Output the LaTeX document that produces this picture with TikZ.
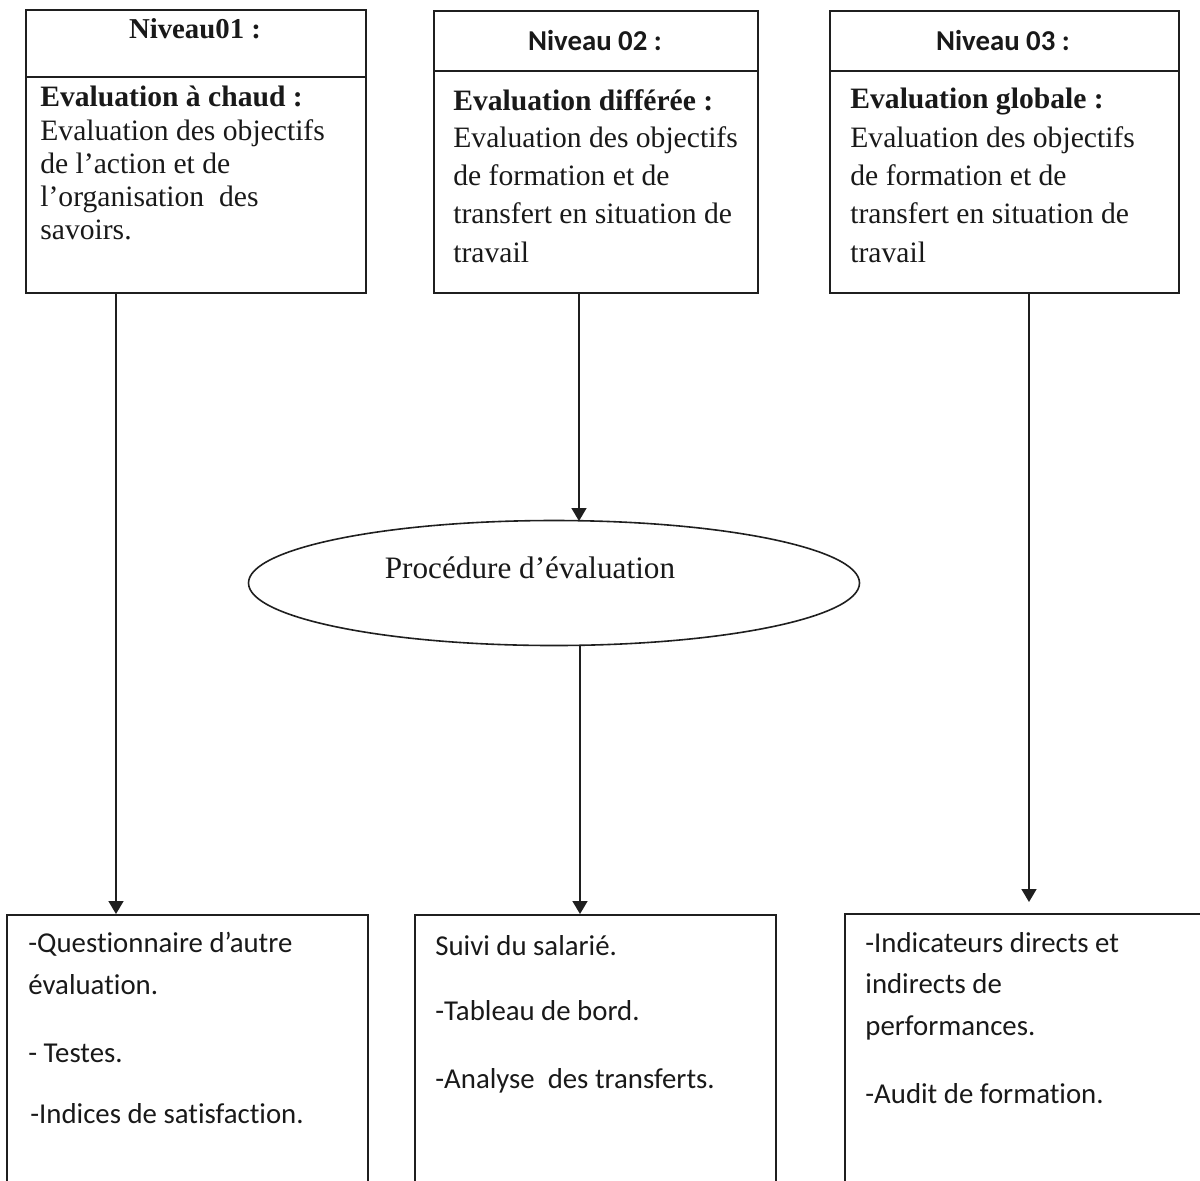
\documentclass[tikz,border=0pt]{standalone}
\usepackage{fontspec}
\setmainfont{Liberation Serif}
\newfontfamily\calfont[Ligatures=NoCommon]{Carlito}
\usetikzlibrary{arrows.meta,shapes.geometric}
\begin{document}
\begin{tikzpicture}[x=0.5pt,y=-0.5pt,
  frame/.style={draw=black!88, line width=1pt},
  topbox/.style={frame, rectangle, anchor=north west, inner sep=0pt},
  openbox/.style={rectangle, anchor=north west, inner sep=0pt},
  arr/.style={draw=black!88, line width=0.8pt, -{Triangle[width=7.5pt,length=6.5pt]}},
  body/.style={anchor=base west, inner sep=0pt, text=black!90, font=\fontsize{14.8}{17}\selectfont},
  bodyb/.style={anchor=base west, inner sep=0pt, text=black!90, font=\fontsize{14.8}{17}\selectfont\bfseries},
  headt/.style={anchor=base, inner sep=0pt, text=black!90, font=\fontsize{14.4}{17}\selectfont\bfseries},
  headc/.style={anchor=base, inner sep=0pt, text=black!90, font=\calfont\fontsize{14.4}{17}\selectfont\bfseries},
  low/.style={anchor=base west, inner sep=0pt, text=black!90, font=\calfont\fontsize{14.4}{17}\selectfont},
  proc/.style={anchor=base, inner sep=0pt, text=black!90, font=\fontsize{15.6}{18}\selectfont},
]
\useasboundingbox (0,0) rectangle (1200,1180);

% top boxes
\node[topbox, minimum width=170pt, minimum height=141.5pt] (b1) at (25,9) {};
\node[topbox, minimum width=162pt, minimum height=141pt] (b2) at (433,10) {};
\node[topbox, minimum width=174.5pt, minimum height=141pt] (b3) at (829,10) {};
\coordinate (d1) at (0,77);
\coordinate (d2) at (0,71);
\draw[frame] (b1.west |- d1) -- (b1.east |- d1);
\draw[frame] (b2.west |- d2) -- (b2.east |- d2);
\draw[frame] (b3.west |- d2) -- (b3.east |- d2);

% headers
\node[headt] (h1) at (195,38) {Niveau01 :};
\node[headc] (h2) at (595,50) {Niveau 02 :};
\node[headc] (h3) at (1003,50) {Niveau 03 :};

% box 1 text
\node[bodyb] (a11) at (40,106) {Evaluation à chaud :};
\node[body] (a12) at (40,140) {Evaluation des objectifs};
\node[body] (a13) at (40,173) {de l’action et de};
\node[body] (a14) at (40,206) {l’organisation\ \ des};
\node[body] (a15) at (40,239) {savoirs.};

% box 2 text
\node[bodyb] (a21) at (453,110) {Evaluation différée :};
\node[body] (a22) at (453,147) {Evaluation des objectifs};
\node[body] (a23) at (453,185) {de formation et de};
\node[body] (a24) at (453,223) {transfert en situation de};
\node[body] (a25) at (453,262) {travail};

% box 3 text
\node[bodyb] (a31) at (850,108) {Evaluation globale :};
\node[body] (a32) at (850,147) {Evaluation des objectifs};
\node[body] (a33) at (850,185) {de formation et de};
\node[body] (a34) at (850,223) {transfert en situation de};
\node[body] (a35) at (850,262) {travail};

% ellipse
\node[ellipse, draw=black!88, line width=0.8pt, minimum width=305.5pt, minimum height=62.5pt, inner sep=0pt] (e) at (554,583) {};
\node[proc] (et) at (530,578) {Procédure d’évaluation};

% bottom boxes (open at the bottom)
\node[openbox, minimum width=180pt, minimum height=132.5pt] (c1) at (7,915) {};
\node[openbox, minimum width=180pt, minimum height=132.5pt] (c2) at (415,915) {};
\node[openbox, minimum width=177.5pt, minimum height=133pt] (c3) at (845,914) {};
\draw[frame] (c1.south west) -- (c1.north west) -- (c1.north east) -- (c1.south east);
\draw[frame] (c2.south west) -- (c2.north west) -- (c2.north east) -- (c2.south east);
\draw[frame] (c3.south west) -- (c3.north west) -- (c3.north east);

% bottom texts
\node[low] (l11) at (28,952) {-Questionnaire d’autre};
\node[low] (l12) at (28,994) {évaluation.};
\node[low] (l13) at (28,1062) {- Testes.};
\node[low] (l14) at (30,1123) {-Indices de satisfaction.};

\node[low] (l21) at (435,955) {Suivi du salarié.};
\node[low] (l22) at (435,1020) {-Tableau de bord.};
\node[low] (l23) at (435,1088) {-Analyse\ \ des transferts.};

\node[low] (l31) at (865,952) {-Indicateurs directs et};
\node[low] (l32) at (865,993) {indirects de};
\node[low] (l33) at (865,1035) {performances.};
\node[low] (l34) at (865,1103) {-Audit de formation.};

% arrows
\coordinate (t1) at (116,914);
\coordinate (t2) at (579,521);
\coordinate (t3) at (580,914);
\coordinate (t4) at (1029,902);
\draw[arr] (b1.south -| t1) -- (t1);
\draw[arr] (b2.south -| t2) -- (t2);
\draw[arr] (e.south -| t3) -- (t3);
\draw[arr] (b3.south -| t4) -- (t4);
\end{tikzpicture}
\end{document}
